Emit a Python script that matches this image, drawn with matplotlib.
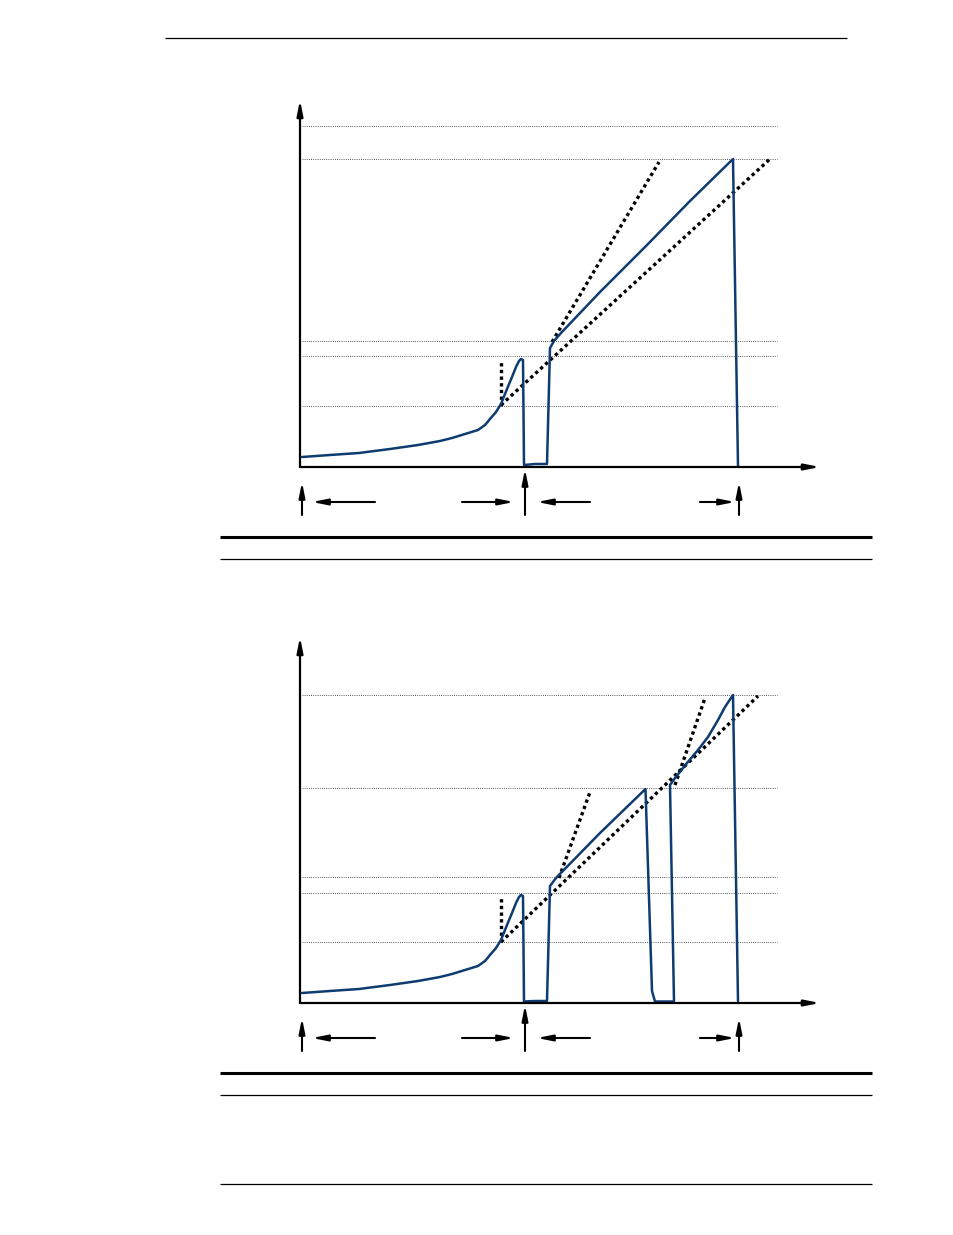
import matplotlib
matplotlib.use("Agg")
import matplotlib.pyplot as plt
from matplotlib.lines import Line2D

# ---------------------------------------------------------------- data
# Shared ramp (time units, level units) before the first trip
ramp_t = [2, 30, 59, 90, 118, 140, 152, 165, 178, 185, 190, 196, 201, 207, 212, 216, 219, 221, 223]
ramp_v = [10, 12, 14, 18, 22, 26, 29, 33, 37, 42, 48, 55, 63, 78, 90, 100, 106, 108, 107]

# Upper chart: one restart, then a long ramp to the upper limit
tail1_t = [224, 235, 247, 250, 254, 261, 300, 347, 390, 433, 438]
tail1_v = [2, 3, 3, 119, 126, 134, 175, 222, 266, 308, 1]

# Lower chart: two restarts
tail2_t = [224, 235, 247, 250, 256, 300, 345.5, 352, 355, 364, 374, 370, 375, 387, 398, 408, 418, 425, 433, 438]
tail2_v = [1.5, 2, 2, 117, 125, 170, 214, 12, 1.5, 1.5, 1.5, 218, 225, 240, 253, 266, 283, 296, 308, 2]

# Reference levels
levels1 = [341, 308, 126, 111, 61]
levels2 = [308, 215, 126, 110, 61]

# Tangent / guide lines: (x0, y0, x1, y1)
guides1 = [(201, 61, 201, 107), (201, 62, 470, 308), (252, 125, 359, 305)]
guides2 = [(201, 61, 201, 106), (201, 61, 458, 307), (259, 125, 290, 211), (375, 218, 405, 305)]

# Markers below the time axis
event_x = [2, 225, 439]
span_arrows = [(75, 12), (162, 214), (290, 237), (400, 435)]

# ---------------------------------------------------------------- style
W, H = 954, 1235
BLUE = "#0f3c70"
fig = plt.figure(figsize=(W / 100, H / 100), dpi=100)
fig.patch.set_facecolor("white")


def page_rule(y, x0, x1, lw):
    fig.add_artist(Line2D([x0 / W, x1 / W], [1 - y / H, 1 - y / H],
                          transform=fig.transFigure, color="black", lw=lw,
                          solid_capstyle="butt"))


page_rule(38, 165, 847, 0.9)
page_rule(537, 220, 872, 2.2)
page_rule(559, 220, 872, 0.9)
page_rule(1073, 220, 872, 2.2)
page_rule(1095, 220, 872, 0.9)
page_rule(1184, 220, 872, 0.9)


def chart(origin_y, top_y, t_vals, v_vals, levels, guides):
    ax = fig.add_axes([300 / W, (H - origin_y) / H, 520 / W, (origin_y - top_y) / H])
    ax.set_xlim(0, 520)
    ax.set_ylim(0, origin_y - top_y)
    ax.axis("off")

    # axes with arrow heads
    head = dict(arrowstyle="-|>,head_length=1.0,head_width=0.2", lw=1.6,
                color="black", mutation_scale=9, shrinkA=0, shrinkB=0)
    ax.annotate("", xy=(1, 0), xytext=(0, 0), xycoords="axes fraction",
                arrowprops=head, annotation_clip=False)
    ax.annotate("", xy=(0, 1), xytext=(0, 0), xycoords="axes fraction",
                arrowprops=head, annotation_clip=False)

    # reference levels
    for lv in levels:
        ax.plot([2, 477], [lv, lv], color="#222222", lw=0.6,
                linestyle=(0, (1, 1.6)), clip_on=False)

    # guide lines
    for x0, y0, x1, y1 in guides:
        ax.plot([x0, x1], [y0, y1], color="black", lw=2.4,
                linestyle=(0, (1, 1.0)), clip_on=False)

    # signal
    ax.plot(t_vals, v_vals, color=BLUE, lw=1.8, solid_joinstyle="round",
            solid_capstyle="round", clip_on=False)

    # event markers below the axis
    small = dict(arrowstyle="-|>,head_length=1.0,head_width=0.2", lw=1.5,
                 color="black", mutation_scale=9, shrinkA=0, shrinkB=0)
    for i, ex in enumerate(event_x):
        top = -2 if i == 1 else -15
        ax.annotate("", xy=(ex, top), xytext=(ex, -48), xycoords="data",
                    arrowprops=small, annotation_clip=False)
    for xa, xb in span_arrows:
        ax.annotate("", xy=(xb, -35), xytext=(xa, -35), xycoords="data",
                    arrowprops=small, annotation_clip=False)
    return ax


chart(467, 100, ramp_t + tail1_t, ramp_v + tail1_v, levels1, guides1)
chart(1003, 637, ramp_t + tail2_t, ramp_v + tail2_v, levels2, guides2)

fig.savefig("out.png", dpi=100, facecolor="white")
